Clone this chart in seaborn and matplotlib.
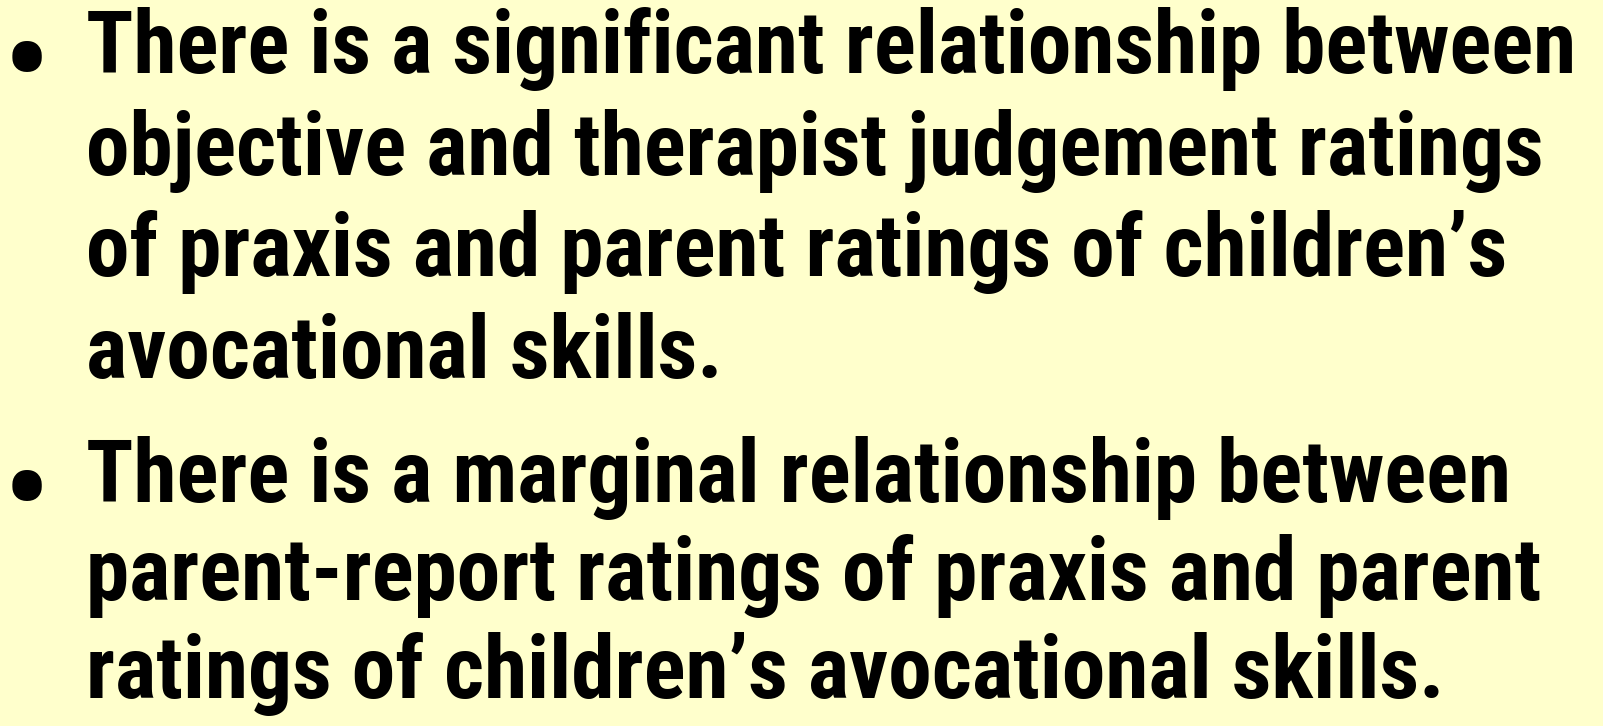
import matplotlib
matplotlib.use("Agg")
import matplotlib.pyplot as plt
import seaborn as sns

# Slide content
bullet_one = [
    "There is a significant relationship between",
    "objective and therapist judgement ratings",
    "of praxis and parent ratings of children\u2019s",
    "avocational skills.",
]
bullet_two = [
    "There is a marginal relationship between",
    "parent-report ratings of praxis and parent",
    "ratings of children\u2019s avocational skills.",
]
bullets = [bullet_one, bullet_two]

bg = "#FFFFCC"
sns.set_theme(style="white", rc={"axes.facecolor": bg, "figure.facecolor": bg})
plt.rcParams["font.family"] = ["Roboto Condensed", "DejaVu Sans"]

fig = plt.figure(figsize=(16.03, 7.26), dpi=100)
ax = fig.add_axes([0, 0, 1, 1])
ax.set_xlim(0, 1603)
ax.set_ylim(726, 0)
ax.axis("off")

# pick a font size so the first line runs from x=86 to about x=1578
renderer = fig.canvas.get_renderer()
probe = ax.text(0, 0, bullet_one[0], fontsize=60, fontweight="bold")
w = probe.get_window_extent(renderer).width
probe.remove()
fs = 60 * 1492 / w

first_baselines = [73, 502]
line_step = [101.7, 98]

for item, y0, step in zip(bullets, first_baselines, line_step):
    ax.text(26, y0 + 30, "\u2022", fontsize=fs * 1.45, fontweight="bold",
            va="baseline", ha="center", color="black")
    for i, line in enumerate(item):
        ax.text(86, y0 + i * step, line, fontsize=fs, fontweight="bold",
                va="baseline", ha="left", color="black")

fig.savefig("out.png", dpi=100, facecolor=bg)
